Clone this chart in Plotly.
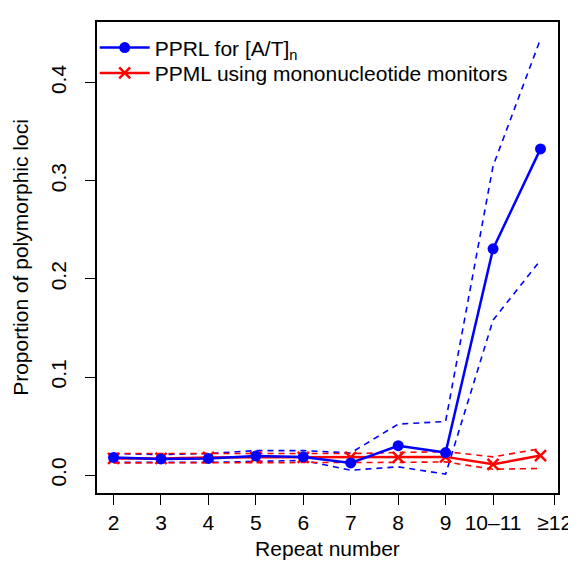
import plotly.graph_objects as go

categories = ["2", "3", "4", "5", "6", "7", "8", "9", "10\u201311", "\u226512"]
positions = list(range(len(categories)))
tick_positions = [0, 1, 2, 3, 4, 5, 6, 7, 8, 9.3]

pprl = [0.018, 0.0165, 0.017, 0.0196, 0.0186, 0.0125, 0.030, 0.023, 0.2306, 0.3325]
pprl_upper = [0.022, 0.021, 0.022, 0.025, 0.025, 0.0226, 0.052, 0.0547, 0.315, 0.4445]
pprl_lower = [0.013, 0.013, 0.013, 0.014, 0.015, 0.005, 0.0085, 0.001, 0.158, 0.219]

ppml = [0.017, 0.017, 0.018, 0.018, 0.018, 0.018, 0.018, 0.0186, 0.011, 0.020]
ppml_upper = [0.022, 0.022, 0.022, 0.022, 0.022, 0.022, 0.023, 0.024, 0.0186, 0.027]
ppml_lower = [0.0125, 0.0125, 0.0125, 0.0125, 0.013, 0.013, 0.013, 0.0135, 0.006, 0.0068]

BLUE = "#0000ff"
RED = "#ff0000"
FS = 21

fig = go.Figure()

for ys in (pprl_upper, pprl_lower):
    fig.add_trace(go.Scatter(x=positions, y=ys, mode="lines",
                             line=dict(color=BLUE, width=1.6, dash="6px,5px"),
                             showlegend=False, hoverinfo="skip"))
for ys in (ppml_upper, ppml_lower):
    fig.add_trace(go.Scatter(x=positions, y=ys, mode="lines",
                             line=dict(color=RED, width=1.6, dash="6px,5px"),
                             showlegend=False, hoverinfo="skip"))

fig.add_trace(go.Scatter(x=positions, y=ppml, mode="lines+markers",
                         name="PPML using mononucleotide monitors",
                         legend="legend2",
                         line=dict(color=RED, width=2.5),
                         marker=dict(symbol="x-thin", size=11, color=RED,
                                     line=dict(color=RED, width=2.5))))
fig.add_trace(go.Scatter(x=positions, y=pprl, mode="lines+markers",
                         name="PPRL for [A/T]<sub>n</sub>",
                         legend="legend",
                         line=dict(color=BLUE, width=2.5),
                         marker=dict(symbol="circle", size=11, color=BLUE)))

legend_common = dict(xanchor="left", yanchor="middle", bgcolor="rgba(0,0,0,0)",
                     font=dict(size=FS), itemwidth=50)

fig.update_layout(
    width=576, height=561,
    margin=dict(l=87, r=15, t=14, b=73),
    plot_bgcolor="white", paper_bgcolor="white",
    font=dict(family="Liberation Sans, Arial, sans-serif", size=FS, color="black"),
    showlegend=True,
    legend=dict(x=-0.005, y=0.945, **legend_common),
    legend2=dict(x=-0.005, y=0.891, **legend_common),
    xaxis=dict(range=[-0.349, 9.369], tickmode="array", tickvals=tick_positions,
               ticktext=categories, showgrid=False, zeroline=False,
               showline=True, linecolor="black", linewidth=1.5, mirror=True,
               ticks="outside", ticklen=10, tickwidth=1.2, tickcolor="black",
               title=dict(text="Repeat number", font=dict(size=FS), standoff=8)),
    yaxis=dict(range=[-0.0182, 0.4618], tickmode="array",
               tickvals=[0, 0.1, 0.2, 0.3, 0.4],
               ticktext=["0.0", "0.1", "0.2", "0.3", "0.4"],
               tickangle=-90, showgrid=False, zeroline=False,
               showline=True, linecolor="black", linewidth=1.5, mirror=True,
               ticks="outside", ticklen=10, tickwidth=1.2, tickcolor="black",
               ticklabelstandoff=11,
               title=dict(text="Proportion of polymorphic loci", font=dict(size=FS),
                          standoff=12)),
)

fig.write_html("out.html")
